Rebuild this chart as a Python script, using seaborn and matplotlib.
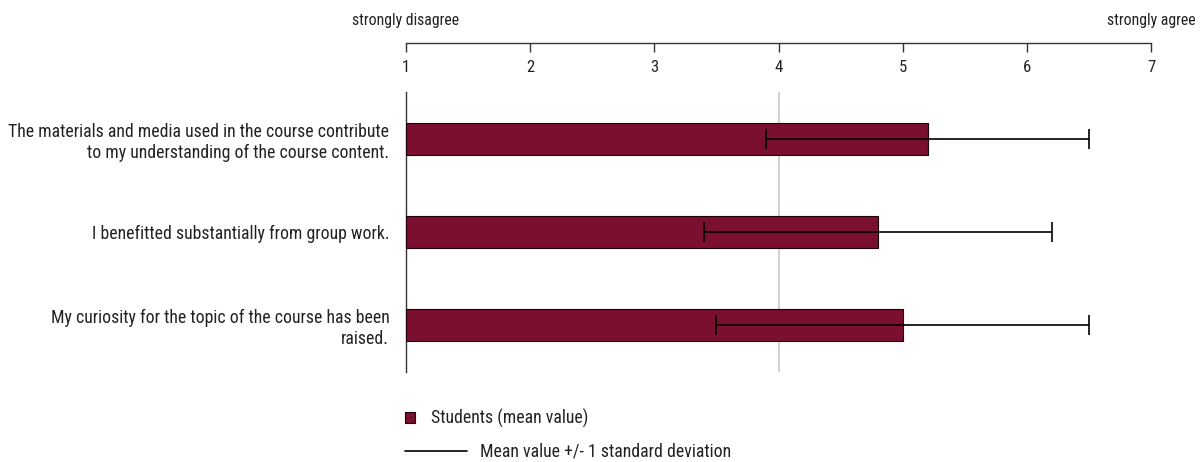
import matplotlib
matplotlib.use("Agg")
import matplotlib.pyplot as plt
import seaborn as sns
import pandas as pd
from matplotlib.patches import Patch
from matplotlib.lines import Line2D

categories = [
    "The materials and media used in the course contribute\nto my understanding of the course content.",
    "I benefitted substantially from group work.",
    "My curiosity for the topic of the course has been\nraised.",
]
means = [5.2, 4.8, 5.0]
sds = [1.3, 1.4, 1.5]
ticks = [1, 2, 3, 4, 5, 6, 7]
scale_left = "strongly disagree"
scale_right = "strongly agree"
legend_bar = "Students (mean value)"
legend_line = "Mean value +/- 1 standard deviation"

sns.set_style("white")
plt.rcParams["font.family"] = ["Roboto Condensed", "DejaVu Sans"]
plt.rcParams["font.weight"] = "normal"

BAR = "#7B0F30"
FS = 12.8
FS_TICK = 12
FS_SCALE = 11.3
TXT = "#222222"

fig = plt.figure(figsize=(12.04, 4.62), dpi=100)
ax = fig.add_axes([406 / 1204, 1 - 372 / 462, 745 / 1204, 280 / 462])

df = pd.DataFrame({"cat": categories, "mean": means})
sns.barplot(data=df, x="mean", y="cat", orient="h", color=BAR, width=0.34,
            edgecolor="#1a0008", linewidth=0.8, saturation=1, ax=ax, zorder=3)
# bars start at 1 (scale minimum): re-base patches
for p in ax.patches:
    w = p.get_width()
    p.set_x(1)
    p.set_width(w - 1)

ax.errorbar(means, range(len(categories)), xerr=sds, fmt="none", ecolor="black",
            elinewidth=1.2, capsize=7.5, capthick=1.2, zorder=4)

ax.set_xlim(1, 7)
ax.set_ylim(2.5, -0.5)
ax.axvline(4, color="#c8c8c8", lw=1.2, zorder=1)

ax.set_xlabel("")
ax.set_ylabel("")
for s in ["right", "bottom"]:
    ax.spines[s].set_visible(False)
ax.spines["left"].set_color("#333333")
ax.spines["left"].set_linewidth(1.0)
ax.spines["top"].set_position(("outward", 35.3))
ax.spines["top"].set_color("#333333")
ax.spines["top"].set_linewidth(1.0)

ax.set_xticks(ticks)
ax.set_xticklabels([str(t) for t in ticks])
ax.xaxis.set_ticks_position("top")
ax.tick_params(axis="x", which="both", top=True, bottom=False, labeltop=True,
               labelbottom=False, direction="in", length=6.5, width=1.0,
               color="#333333", pad=-23, labelsize=FS_TICK, labelcolor=TXT)
ax.tick_params(axis="y", left=False, length=0, pad=12, labelsize=FS,
               labelcolor=TXT)
for lab in ax.get_yticklabels():
    lab.set_horizontalalignment("right")
    lab.set_multialignment("right")

fig.text(406 / 1204, 1 - 20 / 462, scale_left, ha="center", va="center",
         fontsize=FS_SCALE, color=TXT)
fig.text(1151 / 1204, 1 - 20 / 462, scale_right, ha="center", va="center",
         fontsize=FS_SCALE, color=TXT)

leg1 = fig.legend(handles=[Patch(facecolor=BAR, edgecolor="#1a0008", linewidth=0.8)],
                  labels=[legend_bar], loc="center left",
                  bbox_to_anchor=(405 / 1204, 1 - 418 / 462), frameon=False,
                  handlelength=0.57, handleheight=0.57, handletextpad=0.9,
                  fontsize=FS, borderaxespad=0, borderpad=0)
for t in leg1.get_texts():
    t.set_color(TXT)
leg2 = fig.legend(handles=[Line2D([0], [0], color="black", lw=1.2)],
                  labels=[legend_line], loc="center left",
                  bbox_to_anchor=(405 / 1204, 1 - 452 / 462), frameon=False,
                  handlelength=3.5, handletextpad=0.73,
                  fontsize=FS, borderaxespad=0, borderpad=0)
for t in leg2.get_texts():
    t.set_color(TXT)

fig.savefig("out.png", dpi=100)
